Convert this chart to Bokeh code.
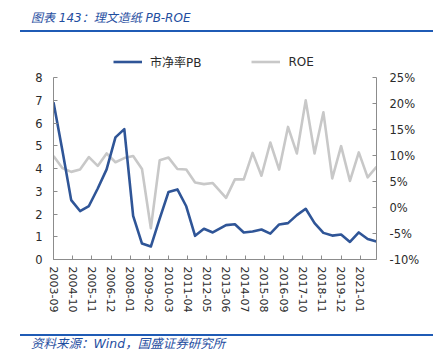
import math
from bokeh.plotting import figure
from bokeh.models import (Range1d, LinearAxis, FixedTicker, PrintfTickFormatter,
                          Legend, LegendItem, Div)
from bokeh.layouts import column
from bokeh.embed import file_html
from bokeh.resources import INLINE

# ---------------- data ----------------
dates = ["2003-09", "2004-03", "2004-09", "2005-03", "2005-09", "2006-03", "2006-09",
         "2007-03", "2007-09", "2008-03", "2008-09", "2009-03", "2009-09", "2010-03",
         "2010-09", "2011-03", "2011-09", "2012-03", "2012-09", "2013-06", "2013-12",
         "2014-06", "2014-12", "2015-06", "2015-12", "2016-06", "2016-12", "2017-06",
         "2017-12", "2018-06", "2018-12", "2019-06", "2019-12", "2020-06", "2020-12",
         "2021-06", "2021-12"]
pb = [6.91, 4.8, 2.61, 2.13, 2.35, 3.12, 3.96, 5.37, 5.73, 1.92, 0.70, 0.57, 1.8,
      2.97, 3.08, 2.34, 1.04, 1.35, 1.19, 1.51, 1.55, 1.19, 1.23, 1.32, 1.14, 1.54,
      1.60, 1.95, 2.23, 1.60, 1.17, 1.05, 1.10, 0.77, 1.19, 0.90, 0.79]
roe = [9.9, 7.6, 6.85, 7.3, 9.7, 8.0, 10.4, 8.7, 9.5, 9.9, 7.4, -4.0, 9.1, 9.6, 7.4,
       7.3, 4.8, 4.5, 4.7, 1.85, 5.4, 5.4, 10.5, 6.1, 12.5, 7.3, 15.5, 10.4, 20.6,
       10.4, 18.3, 5.6, 11.8, 5.1, 10.6, 5.8, 7.8]
tick_labels = ["2003-09", "2004-10", "2005-11", "2006-12", "2008-01", "2009-02",
               "2010-03", "2011-04", "2012-05", "2013-06", "2014-07", "2015-08",
               "2016-09", "2017-10", "2018-11", "2019-12", "2021-01"]
pb_ticks = [0, 1, 2, 3, 4, 5, 6, 7, 8]
roe_ticks = [-10, -5, 0, 5, 10, 15, 20, 25]
series_names = ["市净率PB", "ROE"]
title_text = "图表 143：理文造纸 PB-ROE"
source_text = "资料来源：Wind，国盛证券研究所"

# ---------------- style / layout ----------------
W = 438
BLUE = "#2F5597"
GRAY = "#C8C8C8"
TITLE_BLUE = "#1F4E9F"
RULE_BLUE = "#1F5BB5"
AXIS_GRAY = "#8C8C8C"
TXT = "#2B2B2B"
LAT = "DejaVu Sans"
CJK = "DejaVu Sans, Noto Sans CJK SC"
CSS_FONT = "'DejaVu Sans', 'Noto Sans CJK SC', sans-serif"

HEAD_H, MAIN_H, FOOT_H = 40, 285, 37
BORDER_TOP, BORDER_BOTTOM = 5, 66
AXIS_PX = 182          # height of the axis span (0..8 / -10%..25%)
frame_h = MAIN_H - BORDER_TOP - BORDER_BOTTOM
pad = (frame_h - AXIS_PX) / AXIS_PX   # room above the axes for the legend


def month_index(s):
    y, m = s.split("-")
    return (int(y) - 2003) * 12 + int(m) - 9


xs = [month_index(d) for d in dates]
tick_pos = [month_index(t) for t in tick_labels]


def banner(height, text, text_top, rule_top, size):
    html = (
        f'<div style="position:relative;width:{W}px;height:{height}px;margin:0;padding:0;">'
        f'<span style="position:absolute;left:31px;top:{text_top}px;white-space:nowrap;'
        f'font-family:{CSS_FONT};font-style:italic;font-size:{size}px;line-height:1;'
        f'color:{TITLE_BLUE};">{text}</span>'
        f'<div style="position:absolute;left:20px;top:{rule_top}px;width:413px;height:2px;'
        f'background:{RULE_BLUE};"></div></div>'
    )
    return Div(text=html, width=W, height=height, margin=0)


head = banner(HEAD_H, title_text, 12, 30, 12)

# ---------------- main chart ----------------
pb_lo, pb_hi = pb_ticks[0], pb_ticks[-1]
roe_lo, roe_hi = roe_ticks[0], roe_ticks[-1]
p = figure(width=W, height=MAIN_H, x_range=Range1d(0, month_index(dates[-1])),
           y_range=Range1d(pb_lo, pb_hi + (pb_hi - pb_lo) * pad),
           output_backend="svg", toolbar_location=None,
           min_border_left=53, min_border_right=62, min_border_top=BORDER_TOP,
           min_border_bottom=BORDER_BOTTOM, margin=0)
p.grid.visible = False
p.outline_line_color = None
p.extra_y_ranges = {"roe": Range1d(roe_lo, roe_hi + (roe_hi - roe_lo) * pad)}

r_roe = p.line(xs, roe, y_range_name="roe", line_color=GRAY, line_width=2.6,
               line_join="round")
r_pb = p.line(xs, pb, line_color=BLUE, line_width=2.6, line_join="round")

xa = p.xaxis[0]
xa.ticker = FixedTicker(ticks=tick_pos)
xa.major_label_overrides = {pos: lab for pos, lab in zip(tick_pos, tick_labels)}
xa.major_label_orientation = -math.pi / 2
xa.major_label_text_font_size = "11px"
xa.major_label_standoff = 7

ya = p.yaxis[0]
ya.ticker = FixedTicker(ticks=pb_ticks)
ya.bounds = (pb_lo, pb_hi)
ya.major_label_text_font_size = "11.5px"
ya.major_label_standoff = 11

ra = LinearAxis(y_range_name="roe", ticker=FixedTicker(ticks=roe_ticks),
                formatter=PrintfTickFormatter(format="%d%%"), bounds=(roe_lo, roe_hi))
ra.major_label_text_font_size = "11.5px"
ra.major_label_standoff = 13
p.add_layout(ra, "right")

for ax in [xa, ya, ra]:
    ax.axis_line_color = AXIS_GRAY
    ax.major_tick_line_color = AXIS_GRAY
    ax.major_tick_in = 4
    ax.major_tick_out = 0
    ax.minor_tick_line_color = None
    ax.major_label_text_color = TXT
    ax.major_label_text_font = LAT

legend = Legend(items=[LegendItem(label=series_names[0], renderers=[r_pb]),
                       LegendItem(label=series_names[1], renderers=[r_roe])],
                orientation="horizontal", location=(60, frame_h - 10 - 15),
                label_text_font=CJK, label_text_font_size="12px",
                label_text_color=TXT, glyph_width=29, glyph_height=15,
                label_height=15, label_standoff=8, spacing=50, padding=0,
                margin=0, border_line_color=None, background_fill_alpha=0)
p.add_layout(legend, "center")

foot = banner(FOOT_H, source_text, 13, 9, 12.5)

layout = column(head, p, foot, spacing=0, margin=0)
open("out.html", "w").write(file_html(layout, INLINE))
